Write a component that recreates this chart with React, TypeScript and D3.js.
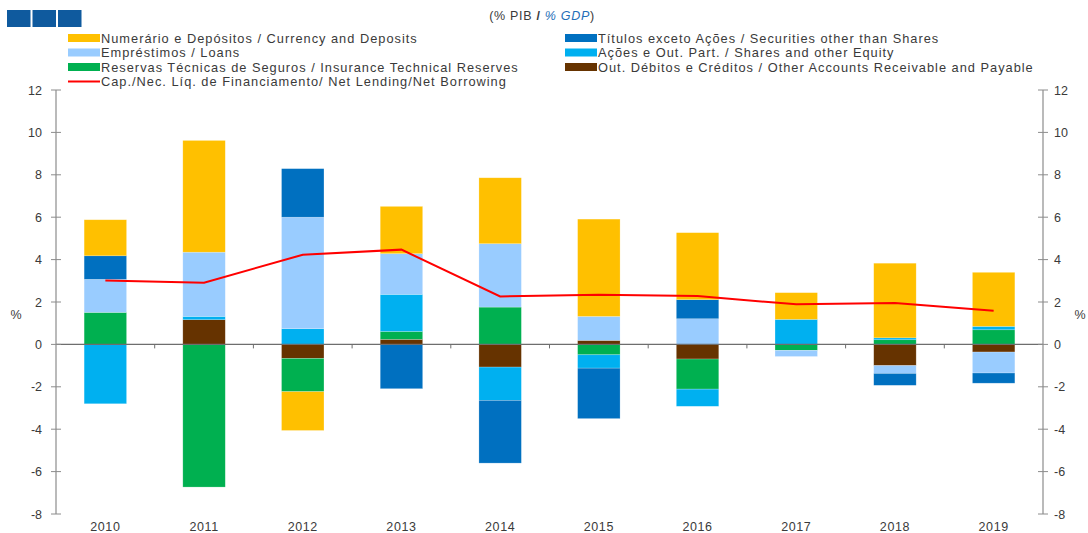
import React from 'react';
import * as d3 from 'd3';

const years = ['2010', '2011', '2012', '2013', '2014', '2015', '2016', '2017', '2018', '2019'];

// values in % of GDP
const currency = [1.7, 5.27, -1.83, 2.23, 3.11, 4.59, 3.16, 1.26, 3.52, 2.55];
const securities = [1.11, 0, 2.29, -2.09, -2.96, -2.38, 0.9, 0, -0.56, -0.48];
const loans = [1.56, 3.03, 5.26, 1.92, 2.99, 1.13, 1.21, -0.29, -0.37, -0.99];
const shares = [-2.8, 0.155, 0.74, 1.75, -1.57, -0.63, -0.81, 1.18, 0.09, 0.16];
const insurance = [1.51, -6.73, -1.57, 0.37, 1.76, -0.49, -1.42, -0.28, 0.22, 0.69];
const otherAccounts = [0, 1.165, -0.66, 0.24, -1.07, 0.19, -0.69, 0, -1.0, -0.36];
const netLending = [3.02, 2.91, 4.23, 4.47, 2.26, 2.34, 2.28, 1.89, 1.95, 1.59];

const yTicks = [-8, -6, -4, -2, 0, 2, 4, 6, 8, 10, 12];

const series = [
  { key: 'other', label: 'Out. Débitos e Créditos / Other Accounts Receivable and Payable', color: '#663300', values: otherAccounts },
  { key: 'insurance', label: 'Reservas Técnicas de Seguros / Insurance Technical Reserves', color: '#00B050', values: insurance },
  { key: 'shares', label: 'Ações e Out. Part. / Shares and other Equity', color: '#00B0F0', values: shares },
  { key: 'loans', label: 'Empréstimos / Loans', color: '#99CCFF', values: loans },
  { key: 'securities', label: 'Títulos exceto Ações / Securities other than Shares', color: '#0070C0', values: securities },
  { key: 'currency', label: 'Numerário e Depósitos / Currency and Deposits', color: '#FFC000', values: currency },
];

const legendLeft = ['currency', 'loans', 'insurance'];
const legendRight = ['securities', 'shares', 'other'];

const font = "'Liberation Sans', Arial, sans-serif";
const textColor = '#3a3a3a';
const axisColor = '#8c8c8c';

export default function App() {
  const left = 56;
  const right = 1043;
  const x = d3.scaleBand<string>().domain(years).range([left, right]).paddingInner(0.57).paddingOuter(0.285);
  const y = d3.scaleLinear().domain([-8, 12]).range([514, 90]);

  const table = years.map((yr, i) => {
    const row: Record<string, number | string> = { year: yr };
    series.forEach((s) => (row[s.key] = s.values[i]));
    return row;
  });
  const stacked = d3
    .stack<Record<string, number | string>>()
    .keys(series.map((s) => s.key))
    .offset(d3.stackOffsetDiverging)(table as any);

  const line = d3
    .line<number>()
    .x((_, i) => (x(years[i]) ?? 0) + x.bandwidth() / 2)
    .y((d) => y(d));

  const byKey = Object.fromEntries(series.map((s) => [s.key, s]));
  const step = x.step();

  return (
    <svg
      width={1088}
      height={533}
      style={{ display: 'block', position: 'absolute', top: 0, left: 0 }}
      fontFamily={font}
    >
      <rect width={1088} height={533} fill="#fff" />
      {/* logo blocks */}
      {[0, 1, 2].map((i) => (
        <rect key={i} x={7 + i * 25.5} y={10} width={23.5} height={17} fill="#0F5A9E" />
      ))}
      <text x={542} y={20} textAnchor="middle" fontSize={12.5} fill={textColor} letterSpacing={0.7}>
        (% PIB <tspan fontWeight="bold">/</tspan> <tspan fill="#1F6FB8" fontStyle="italic">% GDP</tspan>)
      </text>

      {/* legend */}
      {legendLeft.map((k, i) => (
        <g key={k} transform={`translate(68, ${38 + i * 14.5})`}>
          <rect x={0} y={-4} width={32} height={8} fill={byKey[k].color} />
          <text x={33} y={4.5} fontSize={12.8} fill={textColor} letterSpacing={1}>{byKey[k].label}</text>
        </g>
      ))}
      <g transform={`translate(68, ${38 + 3 * 14.5})`}>
        <line x1={0} x2={32} y1={0} y2={0} stroke="#FF0000" strokeWidth={2} />
        <text x={33} y={4.5} fontSize={12.8} fill={textColor} letterSpacing={1}>
          Cap./Nec. Líq. de Financiamento/ Net Lending/Net Borrowing
        </text>
      </g>
      {legendRight.map((k, i) => (
        <g key={k} transform={`translate(565, ${38 + i * 14.5})`}>
          <rect x={0} y={-4} width={32} height={8} fill={byKey[k].color} />
          <text x={33} y={4.5} fontSize={12.8} fill={textColor} letterSpacing={1}>{byKey[k].label}</text>
        </g>
      ))}

      {/* bars */}
      {stacked.map((layer) => (
        <g key={layer.key} fill={byKey[layer.key].color}>
          {layer.map((d, i) =>
            d[1] - d[0] === 0 ? null : (
              <rect
                key={i}
                x={x(years[i])}
                width={x.bandwidth()}
                y={y(Math.max(d[0], d[1]))}
                height={Math.abs(y(d[0]) - y(d[1]))}
                stroke="#ffffff"
                strokeOpacity={0.35}
                strokeWidth={0.6}
              />
            )
          )}
        </g>
      ))}

      {/* zero line and category ticks */}
      <line x1={left} x2={right} y1={y(0)} y2={y(0)} stroke="#6e6e6e" strokeWidth={1.2} />
      {years.slice(1).map((yr) => {
        const tx = (x(yr) ?? 0) - (step - x.bandwidth()) / 2;
        return <line key={yr} x1={tx} x2={tx} y1={y(0)} y2={y(0) + 4} stroke="#6e6e6e" />;
      })}

      {/* net lending line */}
      <path d={line(netLending) ?? ''} fill="none" stroke="#FF0000" strokeWidth={2} />

      {/* left axis */}
      <line x1={left} x2={left} y1={y(12)} y2={y(-8)} stroke={axisColor} strokeWidth={1.2} />
      {yTicks.map((t) => (
        <g key={`l${t}`}>
          <line x1={left - 5} x2={left + 5} y1={y(t)} y2={y(t)} stroke={axisColor} />
          <text x={left - 14} y={y(t) + 4.5} textAnchor="end" fontSize={12.5} fill={textColor}>{t}</text>
        </g>
      ))}
      <text x={16} y={319} textAnchor="middle" fontSize={12.5} fill={textColor}>%</text>

      {/* right axis */}
      <line x1={right} x2={right} y1={y(12)} y2={y(-8)} stroke={axisColor} strokeWidth={1.2} />
      {yTicks.map((t) => (
        <g key={`r${t}`}>
          <line x1={right - 5} x2={right + 5} y1={y(t)} y2={y(t)} stroke={axisColor} />
          <text x={right + 11} y={y(t) + 4.5} textAnchor="start" fontSize={12.5} fill={textColor}>{t}</text>
        </g>
      ))}
      <text x={1080} y={319} textAnchor="middle" fontSize={12.5} fill={textColor}>%</text>

      {/* year labels */}
      {years.map((yr) => (
        <text key={yr} x={(x(yr) ?? 0) + x.bandwidth() / 2} y={531} textAnchor="middle" fontSize={12.5} fill={textColor} letterSpacing={0.6}>
          {yr}
        </text>
      ))}
    </svg>
  );
}
